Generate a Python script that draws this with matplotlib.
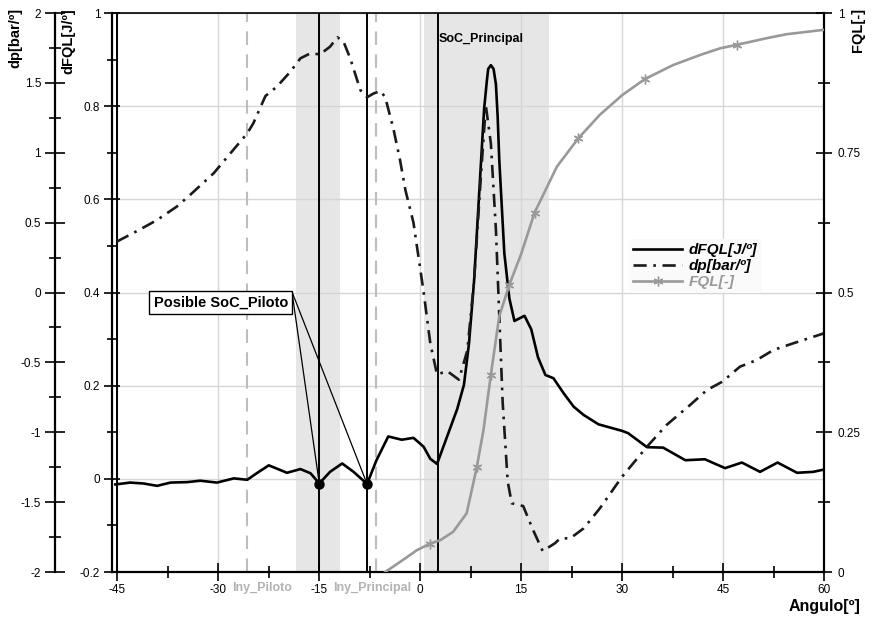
import numpy as np
import matplotlib
matplotlib.use("Agg")
import matplotlib.pyplot as plt
from matplotlib.lines import Line2D
from matplotlib.ticker import MultipleLocator, FuncFormatter

plt.rcParams['font.family'] = ['Liberation Sans', 'DejaVu Sans']

# dFQL[J/º] (left inner axis)
dfqlAngle = [-45.3, -43.1, -41.1, -39.1, -37.1, -34.6, -32.7, -30.2, -27.7, -25.7,
             -24.3, -22.5, -19.8, -17.8, -16.3, -15.0, -13.4, -11.6, -9.9, -7.9,
             -6.5, -4.75, -2.75, -1.0, 0.5, 1.5, 2.5, 4.0, 5.5, 6.5,
             7.25, 8.0, 8.75, 9.5, 9.9, 10.1, 10.5, 10.9, 11.25, 11.5, 11.75, 12.5, 13.25,
             14.0, 15.5, 16.5, 17.5, 18.6, 19.8, 21.3, 22.8, 24.3, 26.5,
             30.0, 30.9, 33.7, 36.1, 39.4, 42.3, 45.3, 47.8, 50.5, 53.1,
             56.0, 58.4, 60.0]
dfqlValue = [-0.012, -0.008, -0.010, -0.015, -0.008, -0.007, -0.004, -0.008, 0.001, -0.002,
             0.012, 0.029, 0.013, 0.021, 0.012, -0.010, 0.015, 0.033, 0.015, -0.011,
             0.040, 0.091, 0.084, 0.088, 0.069, 0.043, 0.032, 0.091, 0.150, 0.202,
             0.291, 0.424, 0.610, 0.795, 0.854, 0.880, 0.888, 0.880, 0.847, 0.780, 0.684, 0.484, 0.387,
             0.339, 0.350, 0.321, 0.261, 0.223, 0.216, 0.184, 0.155, 0.137, 0.117,
             0.103, 0.098, 0.068, 0.067, 0.040, 0.042, 0.023, 0.035, 0.015, 0.035,
             0.013, 0.015, 0.020]

# dp[bar/º] (left outer axis)
dpAngle = [-45.1, -41.8, -39.1, -36.2, -34.2, -30.7, -27.7, -25.7, -24.8, -23.0,
           -21.3, -19.3, -17.8, -16.3, -14.9, -13.4, -12.3, -11.4, -10.4, -8.9,
           -7.9, -6.9, -5.9, -5.2, -4.0, -3.0, -2.2, -1.0, 0.5, 1.5,
           2.5, 4.0, 5.75, 7.0, 8.0, 9.0, 9.75, 10.5, 11.25, 11.75,
           12.25, 13.0, 13.6, 15.3, 16.75, 18.2, 20.0, 20.8, 22.3, 24.3,
           26.7, 30.0, 33.7, 36.6, 40.1, 42.6, 44.9, 47.5, 50.0, 52.5,
           55.4, 60.0]
dpValue = [0.364, 0.447, 0.519, 0.614, 0.698, 0.853, 1.025, 1.139, 1.211, 1.406,
           1.473, 1.580, 1.676, 1.712, 1.704, 1.759, 1.826, 1.795, 1.676, 1.449,
           1.397, 1.425, 1.442, 1.397, 1.175, 0.948, 0.733, 0.499, 0.006, -0.364,
           -0.587, -0.562, -0.624, -0.414, 0.079, 0.820, 1.338, 1.067, 0.449, -0.168,
           -0.784, -1.352, -1.508, -1.528, -1.697, -1.850, -1.795, -1.759, -1.759, -1.687,
           -1.544, -1.318, -1.103, -0.948, -0.805, -0.698, -0.638, -0.531, -0.483, -0.411,
           -0.364, -0.292]

# FQL[-] (right axis)
fqlAngle = [-5.2, -3.0, -0.5, 1.5, 3.0, 4.9, 6.9, 8.4, 9.4, 10.5,
            11.75, 13.25, 15.0, 17.0, 20.3, 23.5, 26.7, 30.0, 33.4, 37.6,
            41.6, 44.6, 47.0, 51.5, 54.4, 60.0]
fqlValue = [0.0, 0.018, 0.039, 0.051, 0.057, 0.072, 0.105, 0.187, 0.254, 0.353,
            0.458, 0.514, 0.569, 0.643, 0.725, 0.776, 0.818, 0.853, 0.882, 0.907,
            0.925, 0.937, 0.943, 0.955, 0.962, 0.970]
fqlMarkerAngle = [1.5, 8.4, 10.5, 13.25, 17.0, 23.5, 33.4, 47.0]

shadeSpans = [(-18.4, -11.9), (0.5, 19.2)]
socLines = [-45.0, -15.0, -7.9, 2.6]
inyLines = [-25.7, -6.6]
inyLabels = ['Iny_Piloto', 'Iny_Principal']
inyLabelAngle = [-23.5, -7.2]
pilotoAngle = [-15.0, -7.9]
pilotoDfql = [-0.010, -0.011]

fig = plt.figure(figsize=(8.75, 6.2), dpi=100)
ax = fig.add_axes([0.128, 0.0774, 0.8137, 0.9016])
ax.set_xlim(-45.8, 60)
ax.set_ylim(-0.2, 1)
ax.set_axisbelow(True)
ax.grid(True, which='major', color='#d6d6d6', lw=1)

for a, b in shadeSpans:
    ax.axvspan(a, b, color='#e6e6e6', lw=0, zorder=0.2)
for x in socLines:
    ax.axvline(x, color='black', lw=1.4, zorder=2)
for x in inyLines:
    ax.axvline(x, color='#bdbdbd', lw=1.5, ls=(0, (6.5, 4.5)), zorder=2)

lineDfql, = ax.plot(dfqlAngle, dfqlValue, color='black', lw=1.9, zorder=4)
ax.plot(pilotoAngle, pilotoDfql, 'o', color='black', ms=6.5, zorder=6)

fmt = FuncFormatter(lambda v, p: f'{round(v, 4) + 0.0:g}')

ax.xaxis.set_major_locator(MultipleLocator(15))
ax.xaxis.set_minor_locator(MultipleLocator(7.5))
ax.yaxis.set_major_locator(MultipleLocator(0.2))
ax.yaxis.set_minor_locator(MultipleLocator(0.1))
ax.xaxis.set_major_formatter(fmt)
ax.yaxis.set_major_formatter(fmt)
ax.tick_params(axis='x', which='major', direction='inout', length=13, width=1.2, labelsize=8.5, pad=2)
ax.tick_params(axis='x', which='minor', direction='inout', length=9, width=1.2)
ax.tick_params(axis='y', which='major', direction='inout', length=11, width=1.2, labelsize=8.5, pad=3)
ax.tick_params(axis='y', which='minor', direction='inout', length=7, width=1.2)
for s in ['left', 'bottom']:
    ax.spines[s].set_linewidth(1.6)
ax.spines['top'].set_linewidth(1.2)
ax.spines['right'].set_visible(False)

# dp axis, offset further left
axDp = ax.twinx()
axDp.set_ylim(-2, 2)
lineDp, = axDp.plot(dpAngle, dpValue, color='#1a1a1a', lw=1.9, ls=(0, (5, 2.5, 1, 2.5)), zorder=4)
axDp.yaxis.set_ticks_position('left')
axDp.yaxis.set_label_position('left')
axDp.spines['left'].set_position(('outward', 41))
axDp.spines['left'].set_visible(True)
axDp.spines['left'].set_linewidth(1.6)
for s in ['right', 'top', 'bottom']:
    axDp.spines[s].set_visible(False)
axDp.yaxis.set_major_locator(MultipleLocator(0.5))
axDp.yaxis.set_minor_locator(MultipleLocator(0.25))
axDp.yaxis.set_major_formatter(fmt)
axDp.tick_params(axis='y', which='major', direction='inout', length=14, width=1.2, labelsize=8.5, pad=3)
axDp.tick_params(axis='y', which='minor', direction='inout', length=8, width=1.2)

# FQL axis on the right
axFql = ax.twinx()
axFql.set_ylim(0, 1)
markIdx = [fqlAngle.index(a) for a in fqlMarkerAngle]
axFql.plot(fqlAngle, fqlValue, color='#999999', lw=1.9, marker=(6, 2, 0), ms=7,
           markevery=markIdx, zorder=3)
for s in ['left', 'top', 'bottom']:
    axFql.spines[s].set_visible(False)
axFql.spines['right'].set_linewidth(1.6)
axFql.yaxis.set_major_locator(MultipleLocator(0.25))
axFql.yaxis.set_minor_locator(MultipleLocator(0.125))
axFql.yaxis.set_major_formatter(fmt)
axFql.tick_params(axis='y', which='major', direction='inout', length=12, width=1.2, labelsize=8.5, pad=4)
axFql.tick_params(axis='y', which='minor', direction='inout', length=8, width=1.2)

# annotations
ax.text(2.8, 0.944, 'SoC_Principal', fontweight='bold', fontsize=9, ha='left', va='center', zorder=7)
for x, lbl in zip(inyLabelAngle, inyLabels):
    ax.text(x, -0.0286, lbl, transform=ax.get_xaxis_transform(), ha='center', va='center',
            color='#b3b3b3', fontweight='bold', fontsize=9, clip_on=False)

corner = (-19.06, 0.4017)
for x, y in zip(pilotoAngle, pilotoDfql):
    ax.annotate('', xy=(x, y), xytext=corner,
                arrowprops=dict(arrowstyle='-', lw=0.9, color='black', shrinkA=0, shrinkB=0), zorder=6)
ax.text(-29.63, 0.3785, 'Posible SoC_Piloto', fontweight='bold', fontsize=10.5, ha='center', va='center',
        bbox=dict(boxstyle='square,pad=0.3', fc='white', ec='black', lw=1), zorder=7)

# axis titles
fig.text(15 / 875, 1 - 8 / 620, 'dp[bar/º]', rotation=90, ha='center', va='top', fontweight='bold', fontsize=10.5)
fig.text(68 / 875, 1 - 8 / 620, 'dFQL[J/º]', rotation=90, ha='center', va='top', fontweight='bold', fontsize=10.5)
fig.text(858 / 875, 1 - 8 / 620, 'FQL[-]', rotation=90, ha='center', va='top', fontweight='bold', fontsize=10.5)
fig.text(860 / 875, 1 - 607 / 620, 'Angulo[º]', ha='right', va='center', fontweight='bold', fontsize=11.5)

# legend
handles = [Line2D([], [], color='black', lw=1.9),
           Line2D([], [], color='#1a1a1a', lw=1.9, ls=(0, (5, 2.5, 1, 2.5))),
           Line2D([], [], color='#999999', lw=1.9, marker=(6, 2, 0), ms=7)]
leg = axFql.legend(handles, ['dFQL[J/º]', 'dp[bar/º]', 'FQL[-]'], loc='upper left',
                   bbox_to_anchor=(0.715, 0.61), prop=dict(weight='bold', style='italic', size=11),
                   frameon=True, facecolor='#fafafa', edgecolor='none', framealpha=1,
                   handlelength=3.2, labelspacing=0.12, borderpad=0.3, handletextpad=0.4)
for t, c in zip(leg.get_texts(), ['black', 'black', '#999999']):
    t.set_color(c)

fig.savefig('out.png', dpi=100)
